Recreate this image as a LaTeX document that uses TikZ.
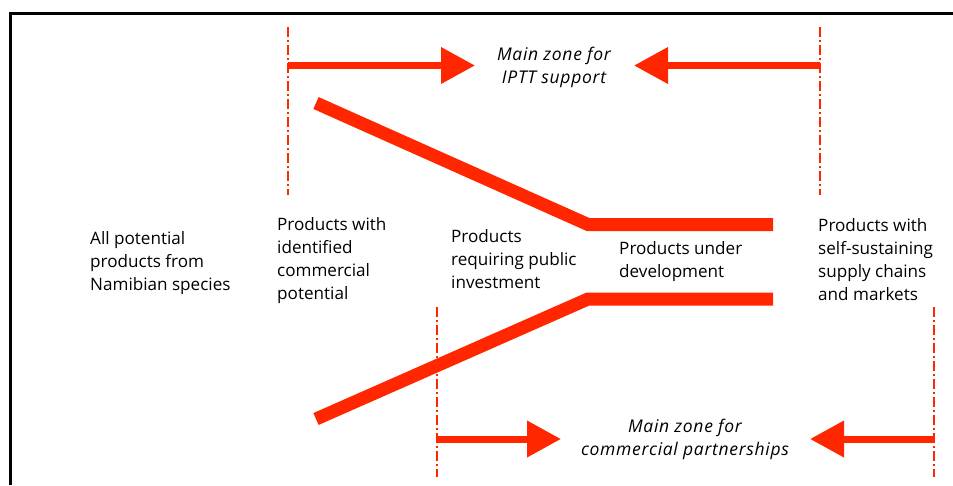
\documentclass[tikz,border=0pt]{standalone}
\usepackage{fontspec}
\setmainfont{Open Sans}
\newfontfamily\zonefont[LetterSpace=4]{Open Sans}
\usetikzlibrary{arrows.meta}
\definecolor{zonered}{RGB}{255,38,0}

\begin{document}
\begin{tikzpicture}[x=1pt,y=-1pt,
  divider/.style={zonered,line width=1.5pt,dash pattern=on 10pt off 3pt on 2pt off 3pt},
  zonearrow/.style={zonered,line width=7pt,-{Triangle[length=34pt,width=35pt]}},
  funnel/.style={zonered,line width=13pt},
  stage/.style={align=left,anchor=base west,inner sep=0pt,font=\fontsize{17.1}{23}\selectfont},
  zonetext/.style={align=center,anchor=base,inner sep=0pt,font=\zonefont\fontsize{17.5}{22.5}\selectfont\itshape}]
 \useasboundingbox (0,0) rectangle (953,485);
 \draw [line width=3pt] (953,13) -- (10,13) -- (10,485); % 枠

 \coordinate (D1a) at (288,27);  \coordinate (D1b) at (288,195); % 左上の区切り
 \coordinate (D2a) at (820,27);  \coordinate (D2b) at (820,195); % 右上の区切り
 \coordinate (D3a) at (437,307); \coordinate (D3b) at (437,477); % 左下の区切り
 \coordinate (D4a) at (934,307); \coordinate (D4b) at (934,477); % 右下の区切り
 \draw [divider] (D1a) -- (D1b);
 \draw [divider] (D2a) -- (D2b);
 \draw [divider] (D3a) -- (D3b);
 \draw [divider] (D4a) -- (D4b);

 \coordinate (T1) at (288,65.5); \coordinate (T2) at (820,65.5); % 上の矢印
 \coordinate (B1) at (437,439);  \coordinate (B2) at (934,439);  % 下の矢印
 \node (ipt) at (554,83) [zonetext] {Main zone for\\IPTT support};
 \node (com) at (685,455) [zonetext] {Main zone for\\commercial partnerships};
 \draw [zonearrow] (T1) -- (475,65.5);
 \draw [zonearrow] (T2) -- (634,65.5);
 \draw [zonearrow] (B1) -- (561,439);
 \draw [zonearrow] (B2) -- (810,439);

 \coordinate (U1) at (316,103); \coordinate (U2) at (588,224.5); \coordinate (U3) at (773,224.5); % 上の線
 \coordinate (L1) at (316,419); \coordinate (L2) at (588,299);   \coordinate (L3) at (773,299);   % 下の線
 \draw [funnel] (U1) -- (U2) -- (U3);
 \draw [funnel] (L1) -- (L2) -- (L3);

 % 最後の行のベースラインに置く
 \node (all) at (90,290) [stage] {All potential\\products from\\Namibian species};
 \node (idf) at (277,299) [stage] {Products with\\identified\\commercial\\potential};
 \node (pub) at (451,288) [stage] {Products\\requiring public\\investment};
 \node (dev) at (619,277) [stage] {Products under\\development};
 \node (sus) at (818,300) [stage] {Products with\\self-sustaining\\supply chains\\and markets};
\end{tikzpicture}
\end{document}
